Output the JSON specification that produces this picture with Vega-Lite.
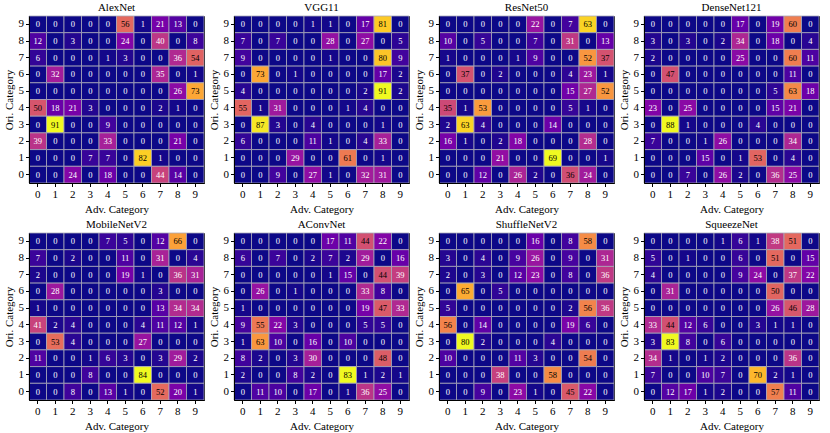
{
"$schema":"https://vega.github.io/schema/vega-lite/v6.json",
"padding":{"left":2,"top":1,"right":5,"bottom":0},
"background":"white",
"data":{"values":[
{"m":"AlexNet","o":9,"a":0,"v":0},{"m":"AlexNet","o":9,"a":1,"v":0},{"m":"AlexNet","o":9,"a":2,"v":0},{"m":"AlexNet","o":9,"a":3,"v":0},{"m":"AlexNet","o":9,"a":4,"v":0},{"m":"AlexNet","o":9,"a":5,"v":56},{"m":"AlexNet","o":9,"a":6,"v":1},{"m":"AlexNet","o":9,"a":7,"v":21},{"m":"AlexNet","o":9,"a":8,"v":13},{"m":"AlexNet","o":9,"a":9,"v":0},
{"m":"AlexNet","o":8,"a":0,"v":12},{"m":"AlexNet","o":8,"a":1,"v":0},{"m":"AlexNet","o":8,"a":2,"v":3},{"m":"AlexNet","o":8,"a":3,"v":0},{"m":"AlexNet","o":8,"a":4,"v":0},{"m":"AlexNet","o":8,"a":5,"v":24},{"m":"AlexNet","o":8,"a":6,"v":0},{"m":"AlexNet","o":8,"a":7,"v":40},{"m":"AlexNet","o":8,"a":8,"v":0},{"m":"AlexNet","o":8,"a":9,"v":8},
{"m":"AlexNet","o":7,"a":0,"v":6},{"m":"AlexNet","o":7,"a":1,"v":0},{"m":"AlexNet","o":7,"a":2,"v":0},{"m":"AlexNet","o":7,"a":3,"v":0},{"m":"AlexNet","o":7,"a":4,"v":1},{"m":"AlexNet","o":7,"a":5,"v":3},{"m":"AlexNet","o":7,"a":6,"v":0},{"m":"AlexNet","o":7,"a":7,"v":0},{"m":"AlexNet","o":7,"a":8,"v":36},{"m":"AlexNet","o":7,"a":9,"v":54},
{"m":"AlexNet","o":6,"a":0,"v":0},{"m":"AlexNet","o":6,"a":1,"v":32},{"m":"AlexNet","o":6,"a":2,"v":0},{"m":"AlexNet","o":6,"a":3,"v":0},{"m":"AlexNet","o":6,"a":4,"v":0},{"m":"AlexNet","o":6,"a":5,"v":0},{"m":"AlexNet","o":6,"a":6,"v":0},{"m":"AlexNet","o":6,"a":7,"v":35},{"m":"AlexNet","o":6,"a":8,"v":0},{"m":"AlexNet","o":6,"a":9,"v":1},
{"m":"AlexNet","o":5,"a":0,"v":0},{"m":"AlexNet","o":5,"a":1,"v":0},{"m":"AlexNet","o":5,"a":2,"v":0},{"m":"AlexNet","o":5,"a":3,"v":0},{"m":"AlexNet","o":5,"a":4,"v":0},{"m":"AlexNet","o":5,"a":5,"v":0},{"m":"AlexNet","o":5,"a":6,"v":0},{"m":"AlexNet","o":5,"a":7,"v":0},{"m":"AlexNet","o":5,"a":8,"v":26},{"m":"AlexNet","o":5,"a":9,"v":73},
{"m":"AlexNet","o":4,"a":0,"v":50},{"m":"AlexNet","o":4,"a":1,"v":18},{"m":"AlexNet","o":4,"a":2,"v":21},{"m":"AlexNet","o":4,"a":3,"v":3},{"m":"AlexNet","o":4,"a":4,"v":0},{"m":"AlexNet","o":4,"a":5,"v":0},{"m":"AlexNet","o":4,"a":6,"v":0},{"m":"AlexNet","o":4,"a":7,"v":2},{"m":"AlexNet","o":4,"a":8,"v":1},{"m":"AlexNet","o":4,"a":9,"v":0},
{"m":"AlexNet","o":3,"a":0,"v":0},{"m":"AlexNet","o":3,"a":1,"v":91},{"m":"AlexNet","o":3,"a":2,"v":0},{"m":"AlexNet","o":3,"a":3,"v":0},{"m":"AlexNet","o":3,"a":4,"v":9},{"m":"AlexNet","o":3,"a":5,"v":0},{"m":"AlexNet","o":3,"a":6,"v":0},{"m":"AlexNet","o":3,"a":7,"v":0},{"m":"AlexNet","o":3,"a":8,"v":0},{"m":"AlexNet","o":3,"a":9,"v":0},
{"m":"AlexNet","o":2,"a":0,"v":39},{"m":"AlexNet","o":2,"a":1,"v":0},{"m":"AlexNet","o":2,"a":2,"v":0},{"m":"AlexNet","o":2,"a":3,"v":0},{"m":"AlexNet","o":2,"a":4,"v":33},{"m":"AlexNet","o":2,"a":5,"v":0},{"m":"AlexNet","o":2,"a":6,"v":0},{"m":"AlexNet","o":2,"a":7,"v":0},{"m":"AlexNet","o":2,"a":8,"v":21},{"m":"AlexNet","o":2,"a":9,"v":0},
{"m":"AlexNet","o":1,"a":0,"v":0},{"m":"AlexNet","o":1,"a":1,"v":0},{"m":"AlexNet","o":1,"a":2,"v":0},{"m":"AlexNet","o":1,"a":3,"v":7},{"m":"AlexNet","o":1,"a":4,"v":7},{"m":"AlexNet","o":1,"a":5,"v":0},{"m":"AlexNet","o":1,"a":6,"v":82},{"m":"AlexNet","o":1,"a":7,"v":1},{"m":"AlexNet","o":1,"a":8,"v":0},{"m":"AlexNet","o":1,"a":9,"v":0},
{"m":"AlexNet","o":0,"a":0,"v":0},{"m":"AlexNet","o":0,"a":1,"v":0},{"m":"AlexNet","o":0,"a":2,"v":24},{"m":"AlexNet","o":0,"a":3,"v":0},{"m":"AlexNet","o":0,"a":4,"v":18},{"m":"AlexNet","o":0,"a":5,"v":0},{"m":"AlexNet","o":0,"a":6,"v":0},{"m":"AlexNet","o":0,"a":7,"v":44},{"m":"AlexNet","o":0,"a":8,"v":14},{"m":"AlexNet","o":0,"a":9,"v":0},
{"m":"VGG11","o":9,"a":0,"v":0},{"m":"VGG11","o":9,"a":1,"v":0},{"m":"VGG11","o":9,"a":2,"v":0},{"m":"VGG11","o":9,"a":3,"v":0},{"m":"VGG11","o":9,"a":4,"v":1},{"m":"VGG11","o":9,"a":5,"v":1},{"m":"VGG11","o":9,"a":6,"v":0},{"m":"VGG11","o":9,"a":7,"v":17},{"m":"VGG11","o":9,"a":8,"v":81},{"m":"VGG11","o":9,"a":9,"v":0},
{"m":"VGG11","o":8,"a":0,"v":7},{"m":"VGG11","o":8,"a":1,"v":0},{"m":"VGG11","o":8,"a":2,"v":7},{"m":"VGG11","o":8,"a":3,"v":0},{"m":"VGG11","o":8,"a":4,"v":0},{"m":"VGG11","o":8,"a":5,"v":28},{"m":"VGG11","o":8,"a":6,"v":0},{"m":"VGG11","o":8,"a":7,"v":27},{"m":"VGG11","o":8,"a":8,"v":0},{"m":"VGG11","o":8,"a":9,"v":5},
{"m":"VGG11","o":7,"a":0,"v":9},{"m":"VGG11","o":7,"a":1,"v":0},{"m":"VGG11","o":7,"a":2,"v":0},{"m":"VGG11","o":7,"a":3,"v":0},{"m":"VGG11","o":7,"a":4,"v":0},{"m":"VGG11","o":7,"a":5,"v":1},{"m":"VGG11","o":7,"a":6,"v":0},{"m":"VGG11","o":7,"a":7,"v":0},{"m":"VGG11","o":7,"a":8,"v":80},{"m":"VGG11","o":7,"a":9,"v":9},
{"m":"VGG11","o":6,"a":0,"v":0},{"m":"VGG11","o":6,"a":1,"v":73},{"m":"VGG11","o":6,"a":2,"v":0},{"m":"VGG11","o":6,"a":3,"v":1},{"m":"VGG11","o":6,"a":4,"v":0},{"m":"VGG11","o":6,"a":5,"v":0},{"m":"VGG11","o":6,"a":6,"v":0},{"m":"VGG11","o":6,"a":7,"v":0},{"m":"VGG11","o":6,"a":8,"v":17},{"m":"VGG11","o":6,"a":9,"v":2},
{"m":"VGG11","o":5,"a":0,"v":4},{"m":"VGG11","o":5,"a":1,"v":0},{"m":"VGG11","o":5,"a":2,"v":0},{"m":"VGG11","o":5,"a":3,"v":0},{"m":"VGG11","o":5,"a":4,"v":0},{"m":"VGG11","o":5,"a":5,"v":0},{"m":"VGG11","o":5,"a":6,"v":0},{"m":"VGG11","o":5,"a":7,"v":2},{"m":"VGG11","o":5,"a":8,"v":91},{"m":"VGG11","o":5,"a":9,"v":2},
{"m":"VGG11","o":4,"a":0,"v":55},{"m":"VGG11","o":4,"a":1,"v":1},{"m":"VGG11","o":4,"a":2,"v":31},{"m":"VGG11","o":4,"a":3,"v":0},{"m":"VGG11","o":4,"a":4,"v":0},{"m":"VGG11","o":4,"a":5,"v":0},{"m":"VGG11","o":4,"a":6,"v":1},{"m":"VGG11","o":4,"a":7,"v":4},{"m":"VGG11","o":4,"a":8,"v":0},{"m":"VGG11","o":4,"a":9,"v":0},
{"m":"VGG11","o":3,"a":0,"v":0},{"m":"VGG11","o":3,"a":1,"v":87},{"m":"VGG11","o":3,"a":2,"v":3},{"m":"VGG11","o":3,"a":3,"v":0},{"m":"VGG11","o":3,"a":4,"v":4},{"m":"VGG11","o":3,"a":5,"v":0},{"m":"VGG11","o":3,"a":6,"v":0},{"m":"VGG11","o":3,"a":7,"v":0},{"m":"VGG11","o":3,"a":8,"v":1},{"m":"VGG11","o":3,"a":9,"v":0},
{"m":"VGG11","o":2,"a":0,"v":6},{"m":"VGG11","o":2,"a":1,"v":0},{"m":"VGG11","o":2,"a":2,"v":0},{"m":"VGG11","o":2,"a":3,"v":0},{"m":"VGG11","o":2,"a":4,"v":11},{"m":"VGG11","o":2,"a":5,"v":1},{"m":"VGG11","o":2,"a":6,"v":0},{"m":"VGG11","o":2,"a":7,"v":4},{"m":"VGG11","o":2,"a":8,"v":33},{"m":"VGG11","o":2,"a":9,"v":0},
{"m":"VGG11","o":1,"a":0,"v":0},{"m":"VGG11","o":1,"a":1,"v":0},{"m":"VGG11","o":1,"a":2,"v":0},{"m":"VGG11","o":1,"a":3,"v":29},{"m":"VGG11","o":1,"a":4,"v":0},{"m":"VGG11","o":1,"a":5,"v":0},{"m":"VGG11","o":1,"a":6,"v":61},{"m":"VGG11","o":1,"a":7,"v":0},{"m":"VGG11","o":1,"a":8,"v":1},{"m":"VGG11","o":1,"a":9,"v":0},
{"m":"VGG11","o":0,"a":0,"v":0},{"m":"VGG11","o":0,"a":1,"v":0},{"m":"VGG11","o":0,"a":2,"v":9},{"m":"VGG11","o":0,"a":3,"v":0},{"m":"VGG11","o":0,"a":4,"v":27},{"m":"VGG11","o":0,"a":5,"v":1},{"m":"VGG11","o":0,"a":6,"v":0},{"m":"VGG11","o":0,"a":7,"v":32},{"m":"VGG11","o":0,"a":8,"v":31},{"m":"VGG11","o":0,"a":9,"v":0},
{"m":"ResNet50","o":9,"a":0,"v":0},{"m":"ResNet50","o":9,"a":1,"v":0},{"m":"ResNet50","o":9,"a":2,"v":0},{"m":"ResNet50","o":9,"a":3,"v":0},{"m":"ResNet50","o":9,"a":4,"v":0},{"m":"ResNet50","o":9,"a":5,"v":22},{"m":"ResNet50","o":9,"a":6,"v":0},{"m":"ResNet50","o":9,"a":7,"v":7},{"m":"ResNet50","o":9,"a":8,"v":63},{"m":"ResNet50","o":9,"a":9,"v":0},
{"m":"ResNet50","o":8,"a":0,"v":10},{"m":"ResNet50","o":8,"a":1,"v":0},{"m":"ResNet50","o":8,"a":2,"v":5},{"m":"ResNet50","o":8,"a":3,"v":0},{"m":"ResNet50","o":8,"a":4,"v":0},{"m":"ResNet50","o":8,"a":5,"v":7},{"m":"ResNet50","o":8,"a":6,"v":0},{"m":"ResNet50","o":8,"a":7,"v":31},{"m":"ResNet50","o":8,"a":8,"v":0},{"m":"ResNet50","o":8,"a":9,"v":13},
{"m":"ResNet50","o":7,"a":0,"v":1},{"m":"ResNet50","o":7,"a":1,"v":0},{"m":"ResNet50","o":7,"a":2,"v":0},{"m":"ResNet50","o":7,"a":3,"v":0},{"m":"ResNet50","o":7,"a":4,"v":1},{"m":"ResNet50","o":7,"a":5,"v":9},{"m":"ResNet50","o":7,"a":6,"v":0},{"m":"ResNet50","o":7,"a":7,"v":0},{"m":"ResNet50","o":7,"a":8,"v":52},{"m":"ResNet50","o":7,"a":9,"v":37},
{"m":"ResNet50","o":6,"a":0,"v":0},{"m":"ResNet50","o":6,"a":1,"v":37},{"m":"ResNet50","o":6,"a":2,"v":0},{"m":"ResNet50","o":6,"a":3,"v":2},{"m":"ResNet50","o":6,"a":4,"v":0},{"m":"ResNet50","o":6,"a":5,"v":0},{"m":"ResNet50","o":6,"a":6,"v":0},{"m":"ResNet50","o":6,"a":7,"v":4},{"m":"ResNet50","o":6,"a":8,"v":23},{"m":"ResNet50","o":6,"a":9,"v":1},
{"m":"ResNet50","o":5,"a":0,"v":0},{"m":"ResNet50","o":5,"a":1,"v":0},{"m":"ResNet50","o":5,"a":2,"v":0},{"m":"ResNet50","o":5,"a":3,"v":0},{"m":"ResNet50","o":5,"a":4,"v":0},{"m":"ResNet50","o":5,"a":5,"v":0},{"m":"ResNet50","o":5,"a":6,"v":0},{"m":"ResNet50","o":5,"a":7,"v":15},{"m":"ResNet50","o":5,"a":8,"v":27},{"m":"ResNet50","o":5,"a":9,"v":52},
{"m":"ResNet50","o":4,"a":0,"v":35},{"m":"ResNet50","o":4,"a":1,"v":1},{"m":"ResNet50","o":4,"a":2,"v":53},{"m":"ResNet50","o":4,"a":3,"v":0},{"m":"ResNet50","o":4,"a":4,"v":0},{"m":"ResNet50","o":4,"a":5,"v":0},{"m":"ResNet50","o":4,"a":6,"v":0},{"m":"ResNet50","o":4,"a":7,"v":5},{"m":"ResNet50","o":4,"a":8,"v":1},{"m":"ResNet50","o":4,"a":9,"v":0},
{"m":"ResNet50","o":3,"a":0,"v":2},{"m":"ResNet50","o":3,"a":1,"v":63},{"m":"ResNet50","o":3,"a":2,"v":4},{"m":"ResNet50","o":3,"a":3,"v":0},{"m":"ResNet50","o":3,"a":4,"v":0},{"m":"ResNet50","o":3,"a":5,"v":0},{"m":"ResNet50","o":3,"a":6,"v":14},{"m":"ResNet50","o":3,"a":7,"v":0},{"m":"ResNet50","o":3,"a":8,"v":0},{"m":"ResNet50","o":3,"a":9,"v":0},
{"m":"ResNet50","o":2,"a":0,"v":16},{"m":"ResNet50","o":2,"a":1,"v":1},{"m":"ResNet50","o":2,"a":2,"v":0},{"m":"ResNet50","o":2,"a":3,"v":2},{"m":"ResNet50","o":2,"a":4,"v":18},{"m":"ResNet50","o":2,"a":5,"v":0},{"m":"ResNet50","o":2,"a":6,"v":0},{"m":"ResNet50","o":2,"a":7,"v":0},{"m":"ResNet50","o":2,"a":8,"v":28},{"m":"ResNet50","o":2,"a":9,"v":0},
{"m":"ResNet50","o":1,"a":0,"v":0},{"m":"ResNet50","o":1,"a":1,"v":0},{"m":"ResNet50","o":1,"a":2,"v":0},{"m":"ResNet50","o":1,"a":3,"v":21},{"m":"ResNet50","o":1,"a":4,"v":0},{"m":"ResNet50","o":1,"a":5,"v":0},{"m":"ResNet50","o":1,"a":6,"v":69},{"m":"ResNet50","o":1,"a":7,"v":0},{"m":"ResNet50","o":1,"a":8,"v":0},{"m":"ResNet50","o":1,"a":9,"v":1},
{"m":"ResNet50","o":0,"a":0,"v":0},{"m":"ResNet50","o":0,"a":1,"v":0},{"m":"ResNet50","o":0,"a":2,"v":12},{"m":"ResNet50","o":0,"a":3,"v":0},{"m":"ResNet50","o":0,"a":4,"v":26},{"m":"ResNet50","o":0,"a":5,"v":2},{"m":"ResNet50","o":0,"a":6,"v":0},{"m":"ResNet50","o":0,"a":7,"v":36},{"m":"ResNet50","o":0,"a":8,"v":24},{"m":"ResNet50","o":0,"a":9,"v":0},
{"m":"DenseNet121","o":9,"a":0,"v":0},{"m":"DenseNet121","o":9,"a":1,"v":0},{"m":"DenseNet121","o":9,"a":2,"v":0},{"m":"DenseNet121","o":9,"a":3,"v":0},{"m":"DenseNet121","o":9,"a":4,"v":0},{"m":"DenseNet121","o":9,"a":5,"v":17},{"m":"DenseNet121","o":9,"a":6,"v":0},{"m":"DenseNet121","o":9,"a":7,"v":19},{"m":"DenseNet121","o":9,"a":8,"v":60},{"m":"DenseNet121","o":9,"a":9,"v":0},
{"m":"DenseNet121","o":8,"a":0,"v":3},{"m":"DenseNet121","o":8,"a":1,"v":0},{"m":"DenseNet121","o":8,"a":2,"v":3},{"m":"DenseNet121","o":8,"a":3,"v":0},{"m":"DenseNet121","o":8,"a":4,"v":2},{"m":"DenseNet121","o":8,"a":5,"v":34},{"m":"DenseNet121","o":8,"a":6,"v":0},{"m":"DenseNet121","o":8,"a":7,"v":18},{"m":"DenseNet121","o":8,"a":8,"v":0},{"m":"DenseNet121","o":8,"a":9,"v":4},
{"m":"DenseNet121","o":7,"a":0,"v":2},{"m":"DenseNet121","o":7,"a":1,"v":0},{"m":"DenseNet121","o":7,"a":2,"v":0},{"m":"DenseNet121","o":7,"a":3,"v":0},{"m":"DenseNet121","o":7,"a":4,"v":0},{"m":"DenseNet121","o":7,"a":5,"v":25},{"m":"DenseNet121","o":7,"a":6,"v":0},{"m":"DenseNet121","o":7,"a":7,"v":0},{"m":"DenseNet121","o":7,"a":8,"v":60},{"m":"DenseNet121","o":7,"a":9,"v":11},
{"m":"DenseNet121","o":6,"a":0,"v":0},{"m":"DenseNet121","o":6,"a":1,"v":47},{"m":"DenseNet121","o":6,"a":2,"v":0},{"m":"DenseNet121","o":6,"a":3,"v":0},{"m":"DenseNet121","o":6,"a":4,"v":0},{"m":"DenseNet121","o":6,"a":5,"v":0},{"m":"DenseNet121","o":6,"a":6,"v":0},{"m":"DenseNet121","o":6,"a":7,"v":0},{"m":"DenseNet121","o":6,"a":8,"v":11},{"m":"DenseNet121","o":6,"a":9,"v":0},
{"m":"DenseNet121","o":5,"a":0,"v":0},{"m":"DenseNet121","o":5,"a":1,"v":0},{"m":"DenseNet121","o":5,"a":2,"v":0},{"m":"DenseNet121","o":5,"a":3,"v":0},{"m":"DenseNet121","o":5,"a":4,"v":0},{"m":"DenseNet121","o":5,"a":5,"v":0},{"m":"DenseNet121","o":5,"a":6,"v":0},{"m":"DenseNet121","o":5,"a":7,"v":5},{"m":"DenseNet121","o":5,"a":8,"v":63},{"m":"DenseNet121","o":5,"a":9,"v":18},
{"m":"DenseNet121","o":4,"a":0,"v":23},{"m":"DenseNet121","o":4,"a":1,"v":0},{"m":"DenseNet121","o":4,"a":2,"v":25},{"m":"DenseNet121","o":4,"a":3,"v":0},{"m":"DenseNet121","o":4,"a":4,"v":0},{"m":"DenseNet121","o":4,"a":5,"v":0},{"m":"DenseNet121","o":4,"a":6,"v":0},{"m":"DenseNet121","o":4,"a":7,"v":15},{"m":"DenseNet121","o":4,"a":8,"v":21},{"m":"DenseNet121","o":4,"a":9,"v":0},
{"m":"DenseNet121","o":3,"a":0,"v":0},{"m":"DenseNet121","o":3,"a":1,"v":88},{"m":"DenseNet121","o":3,"a":2,"v":1},{"m":"DenseNet121","o":3,"a":3,"v":0},{"m":"DenseNet121","o":3,"a":4,"v":0},{"m":"DenseNet121","o":3,"a":5,"v":0},{"m":"DenseNet121","o":3,"a":6,"v":4},{"m":"DenseNet121","o":3,"a":7,"v":0},{"m":"DenseNet121","o":3,"a":8,"v":0},{"m":"DenseNet121","o":3,"a":9,"v":0},
{"m":"DenseNet121","o":2,"a":0,"v":7},{"m":"DenseNet121","o":2,"a":1,"v":0},{"m":"DenseNet121","o":2,"a":2,"v":0},{"m":"DenseNet121","o":2,"a":3,"v":1},{"m":"DenseNet121","o":2,"a":4,"v":26},{"m":"DenseNet121","o":2,"a":5,"v":0},{"m":"DenseNet121","o":2,"a":6,"v":0},{"m":"DenseNet121","o":2,"a":7,"v":0},{"m":"DenseNet121","o":2,"a":8,"v":34},{"m":"DenseNet121","o":2,"a":9,"v":0},
{"m":"DenseNet121","o":1,"a":0,"v":0},{"m":"DenseNet121","o":1,"a":1,"v":0},{"m":"DenseNet121","o":1,"a":2,"v":0},{"m":"DenseNet121","o":1,"a":3,"v":15},{"m":"DenseNet121","o":1,"a":4,"v":0},{"m":"DenseNet121","o":1,"a":5,"v":1},{"m":"DenseNet121","o":1,"a":6,"v":53},{"m":"DenseNet121","o":1,"a":7,"v":0},{"m":"DenseNet121","o":1,"a":8,"v":4},{"m":"DenseNet121","o":1,"a":9,"v":0},
{"m":"DenseNet121","o":0,"a":0,"v":0},{"m":"DenseNet121","o":0,"a":1,"v":0},{"m":"DenseNet121","o":0,"a":2,"v":7},{"m":"DenseNet121","o":0,"a":3,"v":0},{"m":"DenseNet121","o":0,"a":4,"v":26},{"m":"DenseNet121","o":0,"a":5,"v":2},{"m":"DenseNet121","o":0,"a":6,"v":0},{"m":"DenseNet121","o":0,"a":7,"v":36},{"m":"DenseNet121","o":0,"a":8,"v":25},{"m":"DenseNet121","o":0,"a":9,"v":0},
{"m":"MobileNetV2","o":9,"a":0,"v":0},{"m":"MobileNetV2","o":9,"a":1,"v":0},{"m":"MobileNetV2","o":9,"a":2,"v":0},{"m":"MobileNetV2","o":9,"a":3,"v":0},{"m":"MobileNetV2","o":9,"a":4,"v":7},{"m":"MobileNetV2","o":9,"a":5,"v":5},{"m":"MobileNetV2","o":9,"a":6,"v":0},{"m":"MobileNetV2","o":9,"a":7,"v":12},{"m":"MobileNetV2","o":9,"a":8,"v":66},{"m":"MobileNetV2","o":9,"a":9,"v":0},
{"m":"MobileNetV2","o":8,"a":0,"v":7},{"m":"MobileNetV2","o":8,"a":1,"v":0},{"m":"MobileNetV2","o":8,"a":2,"v":2},{"m":"MobileNetV2","o":8,"a":3,"v":0},{"m":"MobileNetV2","o":8,"a":4,"v":0},{"m":"MobileNetV2","o":8,"a":5,"v":11},{"m":"MobileNetV2","o":8,"a":6,"v":0},{"m":"MobileNetV2","o":8,"a":7,"v":31},{"m":"MobileNetV2","o":8,"a":8,"v":0},{"m":"MobileNetV2","o":8,"a":9,"v":4},
{"m":"MobileNetV2","o":7,"a":0,"v":2},{"m":"MobileNetV2","o":7,"a":1,"v":0},{"m":"MobileNetV2","o":7,"a":2,"v":0},{"m":"MobileNetV2","o":7,"a":3,"v":0},{"m":"MobileNetV2","o":7,"a":4,"v":0},{"m":"MobileNetV2","o":7,"a":5,"v":19},{"m":"MobileNetV2","o":7,"a":6,"v":1},{"m":"MobileNetV2","o":7,"a":7,"v":0},{"m":"MobileNetV2","o":7,"a":8,"v":36},{"m":"MobileNetV2","o":7,"a":9,"v":31},
{"m":"MobileNetV2","o":6,"a":0,"v":0},{"m":"MobileNetV2","o":6,"a":1,"v":28},{"m":"MobileNetV2","o":6,"a":2,"v":0},{"m":"MobileNetV2","o":6,"a":3,"v":0},{"m":"MobileNetV2","o":6,"a":4,"v":0},{"m":"MobileNetV2","o":6,"a":5,"v":0},{"m":"MobileNetV2","o":6,"a":6,"v":0},{"m":"MobileNetV2","o":6,"a":7,"v":3},{"m":"MobileNetV2","o":6,"a":8,"v":0},{"m":"MobileNetV2","o":6,"a":9,"v":0},
{"m":"MobileNetV2","o":5,"a":0,"v":1},{"m":"MobileNetV2","o":5,"a":1,"v":0},{"m":"MobileNetV2","o":5,"a":2,"v":0},{"m":"MobileNetV2","o":5,"a":3,"v":0},{"m":"MobileNetV2","o":5,"a":4,"v":0},{"m":"MobileNetV2","o":5,"a":5,"v":0},{"m":"MobileNetV2","o":5,"a":6,"v":0},{"m":"MobileNetV2","o":5,"a":7,"v":13},{"m":"MobileNetV2","o":5,"a":8,"v":34},{"m":"MobileNetV2","o":5,"a":9,"v":34},
{"m":"MobileNetV2","o":4,"a":0,"v":41},{"m":"MobileNetV2","o":4,"a":1,"v":2},{"m":"MobileNetV2","o":4,"a":2,"v":4},{"m":"MobileNetV2","o":4,"a":3,"v":0},{"m":"MobileNetV2","o":4,"a":4,"v":0},{"m":"MobileNetV2","o":4,"a":5,"v":0},{"m":"MobileNetV2","o":4,"a":6,"v":4},{"m":"MobileNetV2","o":4,"a":7,"v":11},{"m":"MobileNetV2","o":4,"a":8,"v":12},{"m":"MobileNetV2","o":4,"a":9,"v":1},
{"m":"MobileNetV2","o":3,"a":0,"v":0},{"m":"MobileNetV2","o":3,"a":1,"v":53},{"m":"MobileNetV2","o":3,"a":2,"v":4},{"m":"MobileNetV2","o":3,"a":3,"v":0},{"m":"MobileNetV2","o":3,"a":4,"v":0},{"m":"MobileNetV2","o":3,"a":5,"v":0},{"m":"MobileNetV2","o":3,"a":6,"v":27},{"m":"MobileNetV2","o":3,"a":7,"v":0},{"m":"MobileNetV2","o":3,"a":8,"v":0},{"m":"MobileNetV2","o":3,"a":9,"v":0},
{"m":"MobileNetV2","o":2,"a":0,"v":11},{"m":"MobileNetV2","o":2,"a":1,"v":0},{"m":"MobileNetV2","o":2,"a":2,"v":0},{"m":"MobileNetV2","o":2,"a":3,"v":1},{"m":"MobileNetV2","o":2,"a":4,"v":6},{"m":"MobileNetV2","o":2,"a":5,"v":3},{"m":"MobileNetV2","o":2,"a":6,"v":0},{"m":"MobileNetV2","o":2,"a":7,"v":3},{"m":"MobileNetV2","o":2,"a":8,"v":29},{"m":"MobileNetV2","o":2,"a":9,"v":2},
{"m":"MobileNetV2","o":1,"a":0,"v":0},{"m":"MobileNetV2","o":1,"a":1,"v":0},{"m":"MobileNetV2","o":1,"a":2,"v":0},{"m":"MobileNetV2","o":1,"a":3,"v":8},{"m":"MobileNetV2","o":1,"a":4,"v":0},{"m":"MobileNetV2","o":1,"a":5,"v":0},{"m":"MobileNetV2","o":1,"a":6,"v":84},{"m":"MobileNetV2","o":1,"a":7,"v":0},{"m":"MobileNetV2","o":1,"a":8,"v":0},{"m":"MobileNetV2","o":1,"a":9,"v":0},
{"m":"MobileNetV2","o":0,"a":0,"v":0},{"m":"MobileNetV2","o":0,"a":1,"v":0},{"m":"MobileNetV2","o":0,"a":2,"v":8},{"m":"MobileNetV2","o":0,"a":3,"v":0},{"m":"MobileNetV2","o":0,"a":4,"v":13},{"m":"MobileNetV2","o":0,"a":5,"v":1},{"m":"MobileNetV2","o":0,"a":6,"v":0},{"m":"MobileNetV2","o":0,"a":7,"v":52},{"m":"MobileNetV2","o":0,"a":8,"v":20},{"m":"MobileNetV2","o":0,"a":9,"v":1},
{"m":"AConvNet","o":9,"a":0,"v":0},{"m":"AConvNet","o":9,"a":1,"v":0},{"m":"AConvNet","o":9,"a":2,"v":0},{"m":"AConvNet","o":9,"a":3,"v":0},{"m":"AConvNet","o":9,"a":4,"v":0},{"m":"AConvNet","o":9,"a":5,"v":17},{"m":"AConvNet","o":9,"a":6,"v":11},{"m":"AConvNet","o":9,"a":7,"v":44},{"m":"AConvNet","o":9,"a":8,"v":22},{"m":"AConvNet","o":9,"a":9,"v":0},
{"m":"AConvNet","o":8,"a":0,"v":6},{"m":"AConvNet","o":8,"a":1,"v":0},{"m":"AConvNet","o":8,"a":2,"v":7},{"m":"AConvNet","o":8,"a":3,"v":0},{"m":"AConvNet","o":8,"a":4,"v":2},{"m":"AConvNet","o":8,"a":5,"v":7},{"m":"AConvNet","o":8,"a":6,"v":2},{"m":"AConvNet","o":8,"a":7,"v":29},{"m":"AConvNet","o":8,"a":8,"v":0},{"m":"AConvNet","o":8,"a":9,"v":16},
{"m":"AConvNet","o":7,"a":0,"v":0},{"m":"AConvNet","o":7,"a":1,"v":0},{"m":"AConvNet","o":7,"a":2,"v":0},{"m":"AConvNet","o":7,"a":3,"v":0},{"m":"AConvNet","o":7,"a":4,"v":0},{"m":"AConvNet","o":7,"a":5,"v":1},{"m":"AConvNet","o":7,"a":6,"v":15},{"m":"AConvNet","o":7,"a":7,"v":0},{"m":"AConvNet","o":7,"a":8,"v":44},{"m":"AConvNet","o":7,"a":9,"v":39},
{"m":"AConvNet","o":6,"a":0,"v":0},{"m":"AConvNet","o":6,"a":1,"v":26},{"m":"AConvNet","o":6,"a":2,"v":0},{"m":"AConvNet","o":6,"a":3,"v":1},{"m":"AConvNet","o":6,"a":4,"v":0},{"m":"AConvNet","o":6,"a":5,"v":0},{"m":"AConvNet","o":6,"a":6,"v":0},{"m":"AConvNet","o":6,"a":7,"v":33},{"m":"AConvNet","o":6,"a":8,"v":8},{"m":"AConvNet","o":6,"a":9,"v":0},
{"m":"AConvNet","o":5,"a":0,"v":1},{"m":"AConvNet","o":5,"a":1,"v":0},{"m":"AConvNet","o":5,"a":2,"v":0},{"m":"AConvNet","o":5,"a":3,"v":0},{"m":"AConvNet","o":5,"a":4,"v":0},{"m":"AConvNet","o":5,"a":5,"v":0},{"m":"AConvNet","o":5,"a":6,"v":0},{"m":"AConvNet","o":5,"a":7,"v":19},{"m":"AConvNet","o":5,"a":8,"v":47},{"m":"AConvNet","o":5,"a":9,"v":33},
{"m":"AConvNet","o":4,"a":0,"v":9},{"m":"AConvNet","o":4,"a":1,"v":55},{"m":"AConvNet","o":4,"a":2,"v":22},{"m":"AConvNet","o":4,"a":3,"v":3},{"m":"AConvNet","o":4,"a":4,"v":0},{"m":"AConvNet","o":4,"a":5,"v":0},{"m":"AConvNet","o":4,"a":6,"v":0},{"m":"AConvNet","o":4,"a":7,"v":5},{"m":"AConvNet","o":4,"a":8,"v":5},{"m":"AConvNet","o":4,"a":9,"v":0},
{"m":"AConvNet","o":3,"a":0,"v":1},{"m":"AConvNet","o":3,"a":1,"v":63},{"m":"AConvNet","o":3,"a":2,"v":10},{"m":"AConvNet","o":3,"a":3,"v":0},{"m":"AConvNet","o":3,"a":4,"v":16},{"m":"AConvNet","o":3,"a":5,"v":0},{"m":"AConvNet","o":3,"a":6,"v":10},{"m":"AConvNet","o":3,"a":7,"v":0},{"m":"AConvNet","o":3,"a":8,"v":0},{"m":"AConvNet","o":3,"a":9,"v":0},
{"m":"AConvNet","o":2,"a":0,"v":8},{"m":"AConvNet","o":2,"a":1,"v":2},{"m":"AConvNet","o":2,"a":2,"v":0},{"m":"AConvNet","o":2,"a":3,"v":3},{"m":"AConvNet","o":2,"a":4,"v":30},{"m":"AConvNet","o":2,"a":5,"v":0},{"m":"AConvNet","o":2,"a":6,"v":0},{"m":"AConvNet","o":2,"a":7,"v":0},{"m":"AConvNet","o":2,"a":8,"v":48},{"m":"AConvNet","o":2,"a":9,"v":0},
{"m":"AConvNet","o":1,"a":0,"v":2},{"m":"AConvNet","o":1,"a":1,"v":0},{"m":"AConvNet","o":1,"a":2,"v":0},{"m":"AConvNet","o":1,"a":3,"v":8},{"m":"AConvNet","o":1,"a":4,"v":2},{"m":"AConvNet","o":1,"a":5,"v":0},{"m":"AConvNet","o":1,"a":6,"v":83},{"m":"AConvNet","o":1,"a":7,"v":1},{"m":"AConvNet","o":1,"a":8,"v":2},{"m":"AConvNet","o":1,"a":9,"v":1},
{"m":"AConvNet","o":0,"a":0,"v":0},{"m":"AConvNet","o":0,"a":1,"v":11},{"m":"AConvNet","o":0,"a":2,"v":10},{"m":"AConvNet","o":0,"a":3,"v":0},{"m":"AConvNet","o":0,"a":4,"v":17},{"m":"AConvNet","o":0,"a":5,"v":0},{"m":"AConvNet","o":0,"a":6,"v":1},{"m":"AConvNet","o":0,"a":7,"v":36},{"m":"AConvNet","o":0,"a":8,"v":25},{"m":"AConvNet","o":0,"a":9,"v":0},
{"m":"ShuffleNetV2","o":9,"a":0,"v":0},{"m":"ShuffleNetV2","o":9,"a":1,"v":0},{"m":"ShuffleNetV2","o":9,"a":2,"v":0},{"m":"ShuffleNetV2","o":9,"a":3,"v":0},{"m":"ShuffleNetV2","o":9,"a":4,"v":0},{"m":"ShuffleNetV2","o":9,"a":5,"v":16},{"m":"ShuffleNetV2","o":9,"a":6,"v":0},{"m":"ShuffleNetV2","o":9,"a":7,"v":8},{"m":"ShuffleNetV2","o":9,"a":8,"v":58},{"m":"ShuffleNetV2","o":9,"a":9,"v":0},
{"m":"ShuffleNetV2","o":8,"a":0,"v":3},{"m":"ShuffleNetV2","o":8,"a":1,"v":0},{"m":"ShuffleNetV2","o":8,"a":2,"v":4},{"m":"ShuffleNetV2","o":8,"a":3,"v":0},{"m":"ShuffleNetV2","o":8,"a":4,"v":9},{"m":"ShuffleNetV2","o":8,"a":5,"v":26},{"m":"ShuffleNetV2","o":8,"a":6,"v":0},{"m":"ShuffleNetV2","o":8,"a":7,"v":9},{"m":"ShuffleNetV2","o":8,"a":8,"v":0},{"m":"ShuffleNetV2","o":8,"a":9,"v":31},
{"m":"ShuffleNetV2","o":7,"a":0,"v":2},{"m":"ShuffleNetV2","o":7,"a":1,"v":0},{"m":"ShuffleNetV2","o":7,"a":2,"v":3},{"m":"ShuffleNetV2","o":7,"a":3,"v":0},{"m":"ShuffleNetV2","o":7,"a":4,"v":12},{"m":"ShuffleNetV2","o":7,"a":5,"v":23},{"m":"ShuffleNetV2","o":7,"a":6,"v":0},{"m":"ShuffleNetV2","o":7,"a":7,"v":8},{"m":"ShuffleNetV2","o":7,"a":8,"v":0},{"m":"ShuffleNetV2","o":7,"a":9,"v":36},
{"m":"ShuffleNetV2","o":6,"a":0,"v":0},{"m":"ShuffleNetV2","o":6,"a":1,"v":65},{"m":"ShuffleNetV2","o":6,"a":2,"v":0},{"m":"ShuffleNetV2","o":6,"a":3,"v":5},{"m":"ShuffleNetV2","o":6,"a":4,"v":0},{"m":"ShuffleNetV2","o":6,"a":5,"v":0},{"m":"ShuffleNetV2","o":6,"a":6,"v":0},{"m":"ShuffleNetV2","o":6,"a":7,"v":0},{"m":"ShuffleNetV2","o":6,"a":8,"v":0},{"m":"ShuffleNetV2","o":6,"a":9,"v":0},
{"m":"ShuffleNetV2","o":5,"a":0,"v":5},{"m":"ShuffleNetV2","o":5,"a":1,"v":0},{"m":"ShuffleNetV2","o":5,"a":2,"v":0},{"m":"ShuffleNetV2","o":5,"a":3,"v":0},{"m":"ShuffleNetV2","o":5,"a":4,"v":0},{"m":"ShuffleNetV2","o":5,"a":5,"v":0},{"m":"ShuffleNetV2","o":5,"a":6,"v":0},{"m":"ShuffleNetV2","o":5,"a":7,"v":2},{"m":"ShuffleNetV2","o":5,"a":8,"v":56},{"m":"ShuffleNetV2","o":5,"a":9,"v":36},
{"m":"ShuffleNetV2","o":4,"a":0,"v":56},{"m":"ShuffleNetV2","o":4,"a":1,"v":0},{"m":"ShuffleNetV2","o":4,"a":2,"v":14},{"m":"ShuffleNetV2","o":4,"a":3,"v":0},{"m":"ShuffleNetV2","o":4,"a":4,"v":0},{"m":"ShuffleNetV2","o":4,"a":5,"v":0},{"m":"ShuffleNetV2","o":4,"a":6,"v":0},{"m":"ShuffleNetV2","o":4,"a":7,"v":19},{"m":"ShuffleNetV2","o":4,"a":8,"v":6},{"m":"ShuffleNetV2","o":4,"a":9,"v":0},
{"m":"ShuffleNetV2","o":3,"a":0,"v":0},{"m":"ShuffleNetV2","o":3,"a":1,"v":80},{"m":"ShuffleNetV2","o":3,"a":2,"v":2},{"m":"ShuffleNetV2","o":3,"a":3,"v":0},{"m":"ShuffleNetV2","o":3,"a":4,"v":0},{"m":"ShuffleNetV2","o":3,"a":5,"v":0},{"m":"ShuffleNetV2","o":3,"a":6,"v":4},{"m":"ShuffleNetV2","o":3,"a":7,"v":0},{"m":"ShuffleNetV2","o":3,"a":8,"v":0},{"m":"ShuffleNetV2","o":3,"a":9,"v":0},
{"m":"ShuffleNetV2","o":2,"a":0,"v":10},{"m":"ShuffleNetV2","o":2,"a":1,"v":0},{"m":"ShuffleNetV2","o":2,"a":2,"v":0},{"m":"ShuffleNetV2","o":2,"a":3,"v":0},{"m":"ShuffleNetV2","o":2,"a":4,"v":11},{"m":"ShuffleNetV2","o":2,"a":5,"v":3},{"m":"ShuffleNetV2","o":2,"a":6,"v":0},{"m":"ShuffleNetV2","o":2,"a":7,"v":0},{"m":"ShuffleNetV2","o":2,"a":8,"v":54},{"m":"ShuffleNetV2","o":2,"a":9,"v":0},
{"m":"ShuffleNetV2","o":1,"a":0,"v":0},{"m":"ShuffleNetV2","o":1,"a":1,"v":0},{"m":"ShuffleNetV2","o":1,"a":2,"v":0},{"m":"ShuffleNetV2","o":1,"a":3,"v":38},{"m":"ShuffleNetV2","o":1,"a":4,"v":0},{"m":"ShuffleNetV2","o":1,"a":5,"v":0},{"m":"ShuffleNetV2","o":1,"a":6,"v":58},{"m":"ShuffleNetV2","o":1,"a":7,"v":0},{"m":"ShuffleNetV2","o":1,"a":8,"v":0},{"m":"ShuffleNetV2","o":1,"a":9,"v":0},
{"m":"ShuffleNetV2","o":0,"a":0,"v":0},{"m":"ShuffleNetV2","o":0,"a":1,"v":0},{"m":"ShuffleNetV2","o":0,"a":2,"v":9},{"m":"ShuffleNetV2","o":0,"a":3,"v":0},{"m":"ShuffleNetV2","o":0,"a":4,"v":23},{"m":"ShuffleNetV2","o":0,"a":5,"v":1},{"m":"ShuffleNetV2","o":0,"a":6,"v":0},{"m":"ShuffleNetV2","o":0,"a":7,"v":45},{"m":"ShuffleNetV2","o":0,"a":8,"v":22},{"m":"ShuffleNetV2","o":0,"a":9,"v":0},
{"m":"SqueezeNet","o":9,"a":0,"v":0},{"m":"SqueezeNet","o":9,"a":1,"v":0},{"m":"SqueezeNet","o":9,"a":2,"v":0},{"m":"SqueezeNet","o":9,"a":3,"v":0},{"m":"SqueezeNet","o":9,"a":4,"v":1},{"m":"SqueezeNet","o":9,"a":5,"v":6},{"m":"SqueezeNet","o":9,"a":6,"v":1},{"m":"SqueezeNet","o":9,"a":7,"v":38},{"m":"SqueezeNet","o":9,"a":8,"v":51},{"m":"SqueezeNet","o":9,"a":9,"v":0},
{"m":"SqueezeNet","o":8,"a":0,"v":5},{"m":"SqueezeNet","o":8,"a":1,"v":0},{"m":"SqueezeNet","o":8,"a":2,"v":1},{"m":"SqueezeNet","o":8,"a":3,"v":0},{"m":"SqueezeNet","o":8,"a":4,"v":0},{"m":"SqueezeNet","o":8,"a":5,"v":6},{"m":"SqueezeNet","o":8,"a":6,"v":0},{"m":"SqueezeNet","o":8,"a":7,"v":51},{"m":"SqueezeNet","o":8,"a":8,"v":0},{"m":"SqueezeNet","o":8,"a":9,"v":15},
{"m":"SqueezeNet","o":7,"a":0,"v":4},{"m":"SqueezeNet","o":7,"a":1,"v":0},{"m":"SqueezeNet","o":7,"a":2,"v":0},{"m":"SqueezeNet","o":7,"a":3,"v":0},{"m":"SqueezeNet","o":7,"a":4,"v":0},{"m":"SqueezeNet","o":7,"a":5,"v":9},{"m":"SqueezeNet","o":7,"a":6,"v":24},{"m":"SqueezeNet","o":7,"a":7,"v":0},{"m":"SqueezeNet","o":7,"a":8,"v":37},{"m":"SqueezeNet","o":7,"a":9,"v":22},
{"m":"SqueezeNet","o":6,"a":0,"v":0},{"m":"SqueezeNet","o":6,"a":1,"v":31},{"m":"SqueezeNet","o":6,"a":2,"v":0},{"m":"SqueezeNet","o":6,"a":3,"v":0},{"m":"SqueezeNet","o":6,"a":4,"v":0},{"m":"SqueezeNet","o":6,"a":5,"v":0},{"m":"SqueezeNet","o":6,"a":6,"v":0},{"m":"SqueezeNet","o":6,"a":7,"v":50},{"m":"SqueezeNet","o":6,"a":8,"v":0},{"m":"SqueezeNet","o":6,"a":9,"v":0},
{"m":"SqueezeNet","o":5,"a":0,"v":0},{"m":"SqueezeNet","o":5,"a":1,"v":0},{"m":"SqueezeNet","o":5,"a":2,"v":0},{"m":"SqueezeNet","o":5,"a":3,"v":0},{"m":"SqueezeNet","o":5,"a":4,"v":0},{"m":"SqueezeNet","o":5,"a":5,"v":0},{"m":"SqueezeNet","o":5,"a":6,"v":0},{"m":"SqueezeNet","o":5,"a":7,"v":26},{"m":"SqueezeNet","o":5,"a":8,"v":46},{"m":"SqueezeNet","o":5,"a":9,"v":28},
{"m":"SqueezeNet","o":4,"a":0,"v":33},{"m":"SqueezeNet","o":4,"a":1,"v":44},{"m":"SqueezeNet","o":4,"a":2,"v":12},{"m":"SqueezeNet","o":4,"a":3,"v":6},{"m":"SqueezeNet","o":4,"a":4,"v":0},{"m":"SqueezeNet","o":4,"a":5,"v":0},{"m":"SqueezeNet","o":4,"a":6,"v":3},{"m":"SqueezeNet","o":4,"a":7,"v":1},{"m":"SqueezeNet","o":4,"a":8,"v":1},{"m":"SqueezeNet","o":4,"a":9,"v":0},
{"m":"SqueezeNet","o":3,"a":0,"v":3},{"m":"SqueezeNet","o":3,"a":1,"v":83},{"m":"SqueezeNet","o":3,"a":2,"v":8},{"m":"SqueezeNet","o":3,"a":3,"v":0},{"m":"SqueezeNet","o":3,"a":4,"v":6},{"m":"SqueezeNet","o":3,"a":5,"v":0},{"m":"SqueezeNet","o":3,"a":6,"v":0},{"m":"SqueezeNet","o":3,"a":7,"v":0},{"m":"SqueezeNet","o":3,"a":8,"v":0},{"m":"SqueezeNet","o":3,"a":9,"v":0},
{"m":"SqueezeNet","o":2,"a":0,"v":34},{"m":"SqueezeNet","o":2,"a":1,"v":1},{"m":"SqueezeNet","o":2,"a":2,"v":0},{"m":"SqueezeNet","o":2,"a":3,"v":1},{"m":"SqueezeNet","o":2,"a":4,"v":2},{"m":"SqueezeNet","o":2,"a":5,"v":0},{"m":"SqueezeNet","o":2,"a":6,"v":0},{"m":"SqueezeNet","o":2,"a":7,"v":0},{"m":"SqueezeNet","o":2,"a":8,"v":36},{"m":"SqueezeNet","o":2,"a":9,"v":0},
{"m":"SqueezeNet","o":1,"a":0,"v":7},{"m":"SqueezeNet","o":1,"a":1,"v":0},{"m":"SqueezeNet","o":1,"a":2,"v":0},{"m":"SqueezeNet","o":1,"a":3,"v":10},{"m":"SqueezeNet","o":1,"a":4,"v":7},{"m":"SqueezeNet","o":1,"a":5,"v":0},{"m":"SqueezeNet","o":1,"a":6,"v":70},{"m":"SqueezeNet","o":1,"a":7,"v":2},{"m":"SqueezeNet","o":1,"a":8,"v":1},{"m":"SqueezeNet","o":1,"a":9,"v":0},
{"m":"SqueezeNet","o":0,"a":0,"v":0},{"m":"SqueezeNet","o":0,"a":1,"v":12},{"m":"SqueezeNet","o":0,"a":2,"v":17},{"m":"SqueezeNet","o":0,"a":3,"v":1},{"m":"SqueezeNet","o":0,"a":4,"v":2},{"m":"SqueezeNet","o":0,"a":5,"v":0},{"m":"SqueezeNet","o":0,"a":6,"v":0},{"m":"SqueezeNet","o":0,"a":7,"v":57},{"m":"SqueezeNet","o":0,"a":8,"v":11},{"m":"SqueezeNet","o":0,"a":9,"v":0}
]},
"transform":[{"joinaggregate":[{"op":"max","field":"v","as":"mx"}],"groupby":["m"]}],
"facet":{"field":"m","type":"nominal","sort":["AlexNet","VGG11","ResNet50","DenseNet121","MobileNetV2","AConvNet","ShuffleNetV2","SqueezeNet"],
  "header":{"title":null,"labelFont":"Liberation Serif","labelFontSize":11,"labelFontWeight":"normal","labelColor":"black","labelPadding":3}},
"columns":4,
"spacing":{"row":3,"column":2},
"spec":{
  "width":175,"height":167,
  "encoding":{
    "x":{"field":"a","type":"ordinal","sort":"ascending","axis":{"title":"Adv. Category","labelAngle":0,"titleFontWeight":"normal","labelFontWeight":"normal"}},
    "y":{"field":"o","type":"ordinal","sort":"descending","axis":{"title":"Ori. Category","titleFontWeight":"normal","labelFontWeight":"normal"}}
  },
  "layer":[
    {"mark":{"type":"rect","stroke":"#a8a8b8","strokeWidth":0.8},
     "encoding":{"color":{"field":"v","type":"quantitative","scale":{"scheme":"plasma","zero":true},"legend":null}}},
    {"mark":{"type":"text","font":"Liberation Serif","fontSize":8.5,"fontWeight":"normal"},
     "encoding":{"text":{"field":"v","type":"quantitative"},
       "color":{"condition":{"test":"datum.v > datum.mx/2","value":"black"},"value":"white"}}}
  ]
},
"resolve":{"scale":{"color":"independent"},"axis":{"x":"independent","y":"independent"}},
"config":{
  "font":"Liberation Serif",
  "view":{"stroke":"black","strokeWidth":1},
  "header":{"labelFontWeight":"normal"},
  "axis":{"labelFont":"Liberation Serif","titleFont":"Liberation Serif","labelFontSize":11,"titleFontSize":11,"titleFontWeight":"normal","labelColor":"black","titleColor":"black","domainColor":"black","tickColor":"black","tickSize":3.5,"labelPadding":2,"titlePadding":4,"grid":false}
}
}
